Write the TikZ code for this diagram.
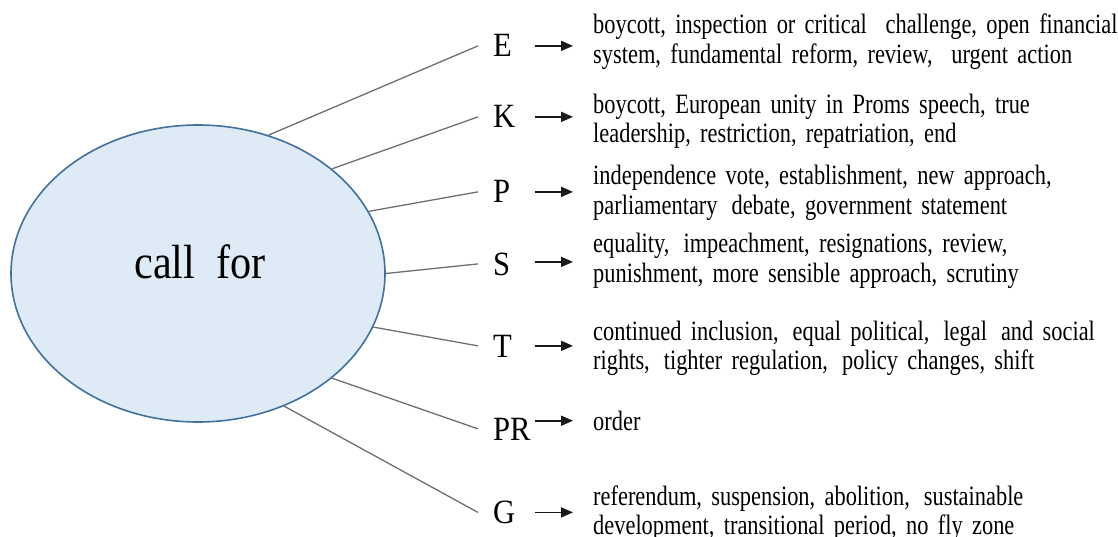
\documentclass[tikz,border=0pt]{standalone}
\usepackage{fontspec}
\setmainfont{Liberation Serif}[FakeStretch=0.8]
\newfontfamily\tagfont{Liberation Serif}[FakeStretch=0.9]
\newfontfamily\hubfont{Liberation Serif}[FakeStretch=0.88]
\usetikzlibrary{shapes.geometric,arrows.meta}

\definecolor{hubfill}{RGB}{222,235,247}
\definecolor{hubline}{RGB}{65,113,156}
\definecolor{spokegray}{RGB}{110,110,110}

\begin{document}
\begin{tikzpicture}[x=1pt,y=-1pt,
  hub/.style={ellipse, draw=hubline, line width=1.6pt, fill=hubfill,
    minimum width=374pt, minimum height=297pt, inner sep=0pt},
  hubtext/.style={font=\hubfont\fontsize{48}{52}\selectfont, anchor=base, inner sep=0pt},
  tag/.style={font=\tagfont\fontsize{34}{36}\selectfont, anchor=base west,
    inner xsep=15pt, inner ysep=0pt},
  items/.style={font=\fontsize{28}{29.5}\selectfont, anchor=base west,
    inner sep=0pt, text width=560pt, align=left},
  spoke/.style={draw=spokegray, line width=1.3pt},
  arr/.style={draw=black!90, line width=1.8pt, -{Triangle[length=12pt,width=10pt]}}
]
\useasboundingbox (0,0) rectangle (1118,537);

% central ellipse
\node[hub] (hub) at (198,273.5) {};
\node[hubtext] (hubtext) at (200,278) {call\ \ for};

% category letters
\node[tag] (E)  at (478,57)  {E};
\node[tag] (K)  at (478,128) {K};
\node[tag] (P)  at (478,203) {P};
\node[tag] (S)  at (478,275) {S};
\node[tag] (T)  at (478,357) {T};
\node[tag] (PR) at (478,440) {PR};
\node[tag] (G)  at (478,523.5) {G};

% item lists
\node[items] (tE) at (593,34) {boycott, inspection or critical\ \ challenge, open financial\\
  system, fundamental reform, review,\ \ urgent action};
\node[items] (tK) at (593,113.5) {boycott, European unity in Proms speech, true\\
  leadership, restriction, repatriation, end};
\node[items] (tP) at (593,185) {independence vote, establishment, new approach,\\
  parliamentary\, debate, government statement};
\node[items] (tS) at (593,253) {equality,\, impeachment, resignations, review,\\
  punishment, more sensible approach, scrutiny};
\node[items] (tT) at (593,340) {continued inclusion,\, equal political,\, legal\, and social\\
  rights,\, tighter regulation,\, policy changes, shift};
\node[items] (tPR) at (593,430.3) {order};
\node[items] (tG) at (593,505) {referendum, suspension, abolition,\, sustainable\\
  development, transitional period, no fly zone};

% spokes from the ellipse to the letters
\draw[spoke] (hub.63.5)  -- (E.west);
\draw[spoke] (hub.38.5)  -- (K.west);
\draw[spoke] (hub.20.2)  -- (P.west);
\draw[spoke] (hub.0.5)   -- (S.west);
\draw[spoke] (hub.-17.3) -- (T.west);
\draw[spoke] (hub.-38.7) -- (PR.west);
\draw[spoke] (hub.-57.5) -- (G.west);

% arrows from the letters to their lists
\coordinate (ax) at (535,0);
\coordinate (tx) at (573,0);
\draw[arr] (E.center -| ax)  -- (E.center -| tx);
\draw[arr] (K.center -| ax)  -- (K.center -| tx);
\draw[arr] (P.center -| ax)  -- (P.center -| tx);
\draw[arr] ([yshift=2pt]S.center -| ax) -- ([yshift=2pt]S.center -| tx);
\draw[arr] (T.center -| ax)  -- (T.center -| tx);
\draw[arr] (tPR.center -| ax) -- (tPR.center -| tx);
\draw[arr] (G.center -| ax)  -- (G.center -| tx);
\end{tikzpicture}
\end{document}
